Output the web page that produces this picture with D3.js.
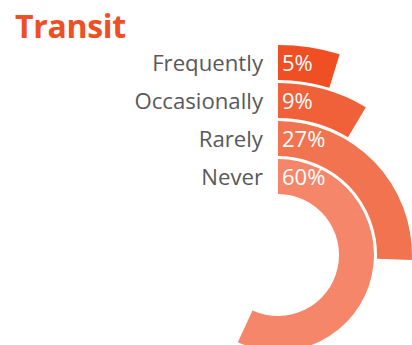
<!DOCTYPE html>
<html>
<head>
<meta charset="utf-8">
<script src="https://cdn.jsdelivr.net/npm/d3@7"></script>
<style>
html,body{margin:0;padding:0;background:#fff;}
svg{display:block;}
</style>
</head>
<body>
<svg id="chart" width="412" height="345"></svg>
<script>
const title = "Transit";
const categories = ["Frequently", "Occasionally", "Rarely", "Never"];
const values = [5, 9, 27, 60];
const valueLabels = ["5%", "9%", "27%", "60%"];
const colors = ["#F04E23", "#F16139", "#F27350", "#F5866A"];

const svg = d3.select("#chart");
const cx = 278, cy = 255;

const angle = d3.scaleLinear().domain([0, 105.5]).range([0, 2 * Math.PI]);
// inner ring = last category (Never), outer ring = first (Frequently)
const ring = d3.scaleBand()
  .domain(categories.slice().reverse())
  .range([61, 210])
  .paddingInner(0.08)
  .paddingOuter(0);

const data = categories.map((c, i) => ({cat: c, value: values[i], label: valueLabels[i], color: colors[i]}));

const inner = d => ring(d.cat);
const outer = d => ring(d.cat) + ring.bandwidth();
const mid = d => ring(d.cat) + ring.bandwidth() / 2;

const g = svg.append("g").attr("transform", `translate(${cx},${cy})`);

const arc = d3.arc()
  .innerRadius(inner)
  .outerRadius(outer)
  .startAngle(0)
  .endAngle(d => angle(d.value));

g.selectAll("path.bar").data(data).join("path")
  .attr("class", "bar")
  .attr("d", arc)
  .attr("fill", d => d.color);

g.selectAll("text.val").data(data).join("text")
  .attr("class", "val")
  .attr("x", 4)
  .attr("y", d => -mid(d) + 8.5)
  .attr("fill", "#fff")
  .attr("font-family", "'Open Sans', sans-serif")
  .attr("font-size", 22)
  .text(d => d.label);

g.selectAll("text.cat").data(data).join("text")
  .attr("class", "cat")
  .attr("x", -15)
  .attr("y", d => -mid(d) + 8.5)
  .attr("text-anchor", "end")
  .attr("fill", "#58595B")
  .attr("font-family", "'Open Sans', sans-serif")
  .attr("font-size", 22.2)
  .text(d => d.cat);

svg.append("text")
  .attr("x", 15)
  .attr("y", 38)
  .attr("fill", "#F04E23")
  .attr("font-family", "'Open Sans', sans-serif")
  .attr("font-weight", "bold")
  .attr("font-size", 32)
  .attr("letter-spacing", -0.3)
  .text(title);
</script>
</body>
</html>
